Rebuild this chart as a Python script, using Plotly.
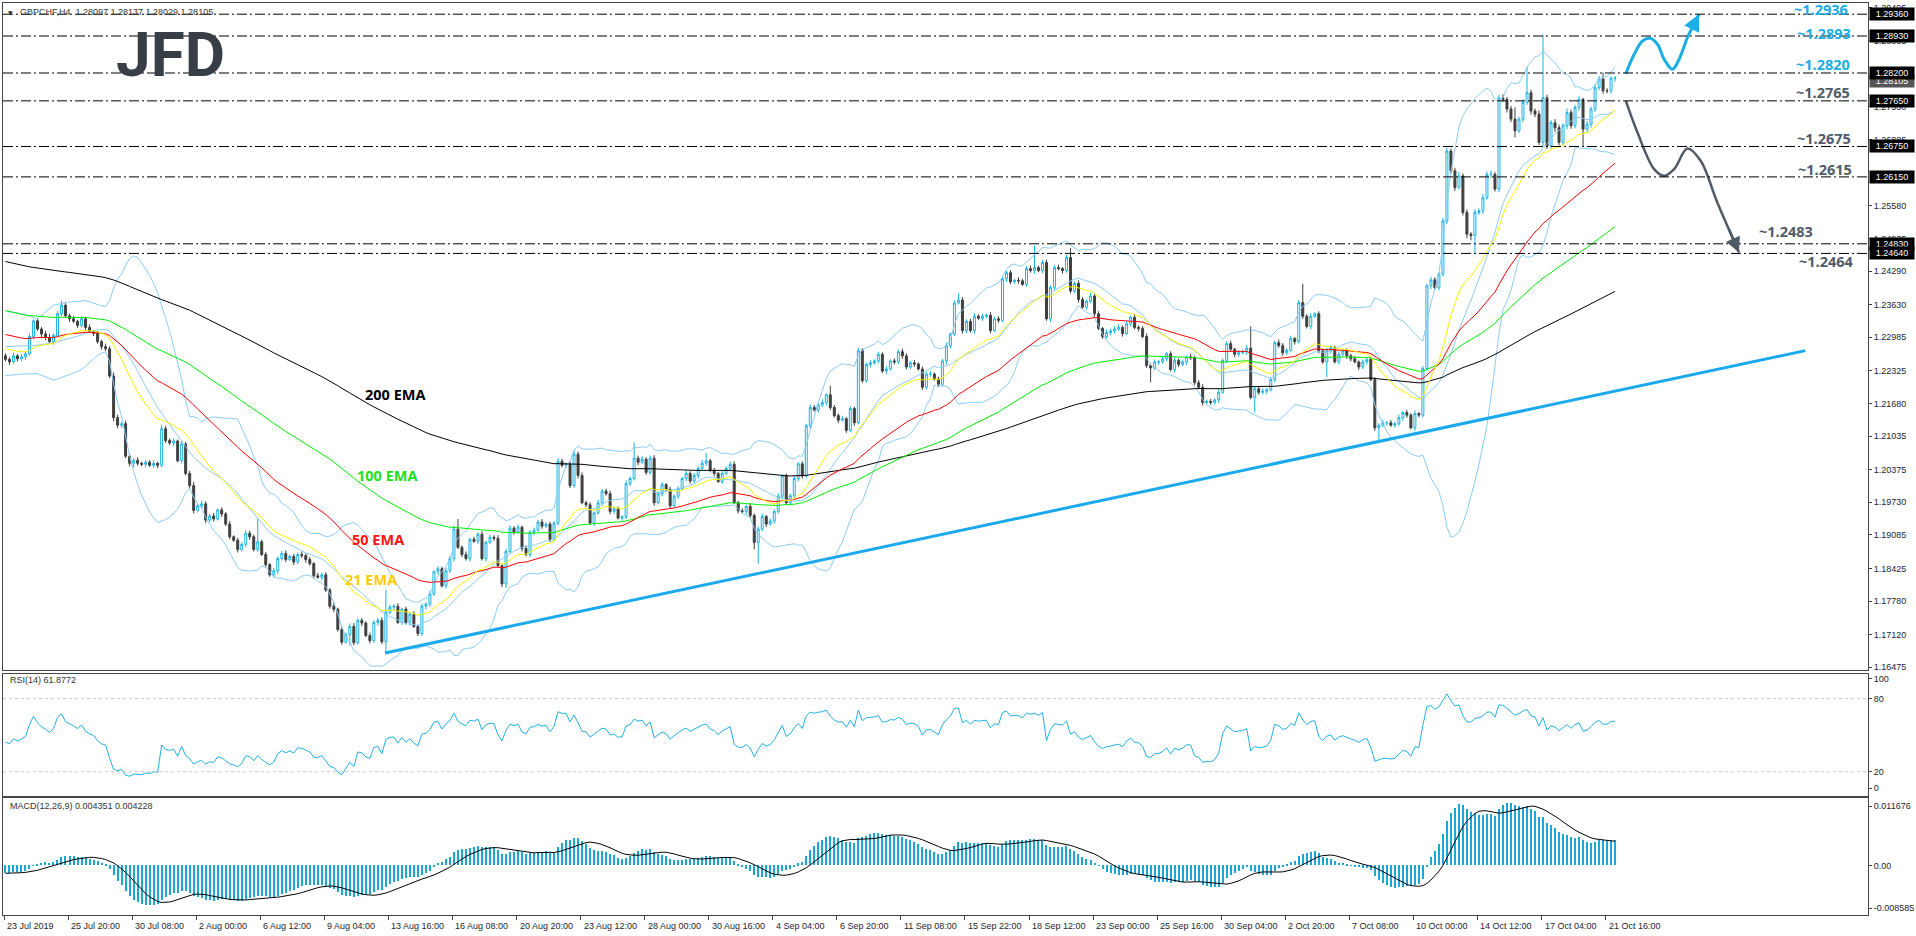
import numpy as np
import pandas as pd
import plotly.graph_objects as go
from plotly.subplots import make_subplots

# ---------------- DATA (prices in 1e-4 units above 1.0000) ----------------
first_open = 2262
closes = [
    2255,2250,2262,2256,2260,2266,2300,2331,2315,2305,2298,2290,2302,2345,2362,2341,2335,2330,2322,2335,
    2318,2310,2306,2290,2280,2276,2222,2140,2125,2128,2064,2050,2056,2050,2048,2052,2046,2050,2046,2118,
    2095,2090,2094,2055,2088,2030,2006,1957,1966,1970,1938,1946,1940,1958,1950,1930,1905,1898,1880,1890,
    1912,1905,1880,1895,1870,1850,1830,1838,1862,1872,1860,1866,1855,1870,1868,1860,1852,1828,1825,1830,
    1800,1768,1762,1722,1697,1712,1728,1696,1740,1735,1710,1700,1736,1740,1698,1756,1766,1768,1736,1762,
    1736,1752,1728,1714,1768,1772,1792,1836,1842,1808,1838,1862,1920,1884,1870,1862,1900,1896,1910,1862,
    1894,1904,1902,1848,1812,1876,1922,1914,1924,1882,1870,1914,1918,1934,1926,1930,1900,1932,2054,2046,
    2048,2006,2068,2026,1972,1968,1932,1952,1972,1995,1990,1955,1960,1942,1944,2010,2020,2060,2052,2058,
    2032,2060,1972,1990,2008,1998,1966,1985,2000,2020,2030,2015,2026,2040,2050,2055,2036,2030,2014,2030,
    2040,2048,1972,1956,1955,1965,1947,1894,1920,1945,1930,1936,1955,1985,2025,1972,1986,2020,2049,2025,
    2124,2160,2155,2165,2170,2185,2160,2144,2135,2138,2115,2158,2130,2272,2213,2245,2248,2252,2265,2232,
    2236,2252,2250,2270,2262,2240,2248,2246,2236,2200,2226,2226,2216,2206,2252,2282,2305,2366,2372,2312,
    2330,2312,2340,2336,2340,2342,2312,2335,2332,2414,2426,2408,2411,2410,2403,2434,2430,2436,2430,2446,
    2335,2397,2436,2434,2430,2456,2390,2405,2373,2358,2370,2380,2345,2316,2300,2308,2311,2315,2318,2306,
    2325,2338,2318,2316,2300,2243,2238,2250,2250,2256,2266,2235,2253,2245,2250,2260,2258,2209,2200,2170,
    2172,2170,2175,2190,2253,2286,2275,2265,2268,2270,2277,2180,2197,2190,2192,2195,2215,2288,2282,2268,
    2273,2296,2290,2367,2340,2320,2340,2345,2272,2250,2272,2278,2250,2265,2272,2262,2256,2250,2240,2250,
    2255,2215,2120,2125,2130,2130,2125,2128,2140,2150,2145,2120,2148,2145,2237,2400,2412,2396,2423,2528,
    2666,2627,2594,2617,2545,2502,2499,2545,2548,2574,2620,2620,2591,2771,2768,2749,2729,2706,2729,2762,
    2781,2745,2739,2683,2771,2676,2722,2712,2683,2716,2742,2716,2752,2768,2709,2719,2749,2791,2808,2785,
    2785,2809.7,2810.5,
]
upper_wicks = [
    5,4,6,3,5,4,6,3,5,4,6,7,4,5,9,5,4,6,3,5,
    4,6,3,5,4,6,5,7,6,4,6,5,4,6,3,5,4,6,3,8,
    6,4,5,3,6,4,5,7,4,6,5,4,6,3,5,4,6,3,5,4,
    6,5,4,45,4,5,3,6,4,5,6,3,5,4,6,4,5,3,6,4,
    5,4,6,3,5,4,6,7,4,5,3,6,4,5,6,44,5,4,6,3,
    5,4,6,3,5,4,6,3,5,4,6,5,7,20,4,6,3,5,4,6,
    3,5,4,6,3,5,6,4,5,3,6,4,5,4,6,3,5,4,6,5,
    4,6,7,5,6,4,5,3,6,4,5,6,4,5,3,6,4,31,5,6,
    4,5,6,4,5,3,6,4,5,3,6,4,5,4,6,15,4,5,3,6,
    4,5,6,4,5,3,6,4,5,6,3,5,4,6,3,5,4,6,3,5,
    4,6,5,4,6,3,18,5,4,6,3,5,4,6,5,4,6,3,5,4,
    6,3,5,4,6,5,4,6,3,5,4,6,3,5,4,6,3,5,13,6,
    4,5,6,4,5,3,6,4,5,6,4,5,3,6,4,5,6,43,4,5,
    6,4,5,6,3,5,19,4,6,5,3,6,4,5,3,6,4,5,6,4,
    5,3,6,4,5,6,4,5,3,6,4,5,6,4,5,3,6,4,5,6,
    4,5,3,6,4,5,6,3,5,4,6,43,5,4,6,3,5,4,6,5,
    4,6,3,5,37,4,6,3,5,4,6,5,4,6,3,5,4,6,3,5,
    4,6,5,4,6,3,5,4,6,3,5,4,6,3,5,4,6,5,4,6,
    7,5,6,8,5,6,4,6,5,7,6,8,5,6,7,5,6,23,5,6,
    50,6,5,7,125,6,5,7,6,5,8,6,5,7,3,6,5,7,6,13,
    5,4,3.2,
]
lower_wicks = [
    4,6,3,5,4,6,3,5,4,6,5,3,6,4,5,4,6,3,5,4,
    6,3,5,4,6,5,4,7,6,5,4,6,8,5,4,6,3,5,6,4,
    5,4,6,3,5,4,7,6,4,5,6,4,5,3,6,4,5,3,6,4,
    5,6,4,5,3,6,4,5,6,4,5,3,6,4,5,6,4,5,3,6,
    4,5,6,4,5,3,22,5,4,6,3,5,4,6,5,21,4,6,3,5,
    4,6,3,5,4,6,5,4,6,3,5,4,6,3,5,4,6,3,5,4,
    6,3,5,4,6,8,4,5,3,6,4,5,6,3,5,4,6,3,5,4,
    6,5,4,6,3,5,4,6,3,5,4,6,5,3,6,4,5,4,6,3,
    5,4,6,3,5,4,6,3,5,4,6,5,4,6,3,5,4,6,3,5,
    4,6,3,5,4,6,5,14,42,4,6,3,5,4,6,3,5,4,6,5,
    4,6,3,5,4,6,5,4,6,3,5,4,6,3,5,4,6,3,5,4,
    6,3,5,4,6,5,4,6,3,5,4,6,3,5,4,6,5,4,3,6,
    5,4,6,3,5,4,6,3,5,4,6,5,4,6,3,5,4,6,3,5,
    4,6,5,3,6,4,5,4,6,3,5,4,6,3,5,4,6,5,4,6,
    3,5,4,6,3,5,28,4,6,3,5,4,6,5,3,6,4,5,4,6,
    3,5,4,6,3,5,4,6,5,3,6,4,30,5,4,6,3,5,4,6,
    5,3,6,4,5,4,6,3,5,4,30,6,3,5,4,6,5,3,6,4,
    5,3,6,25,4,6,3,5,4,6,5,3,6,4,5,4,6,3,5,4,
    6,5,7,4,6,8,9,36,5,6,4,7,5,6,5,7,6,13,5,6,
    5,7,6,5,7,6,5,8,6,5,7,6,5,6,33,5,7,6,5,6,
    5,6,6.8,
]
assert len(closes) == len(upper_wicks) == len(lower_wicks) == 403

date_labels = ["23 Jul 2019", "25 Jul 20:00", "30 Jul 08:00", "2 Aug 00:00", "6 Aug 12:00",
               "9 Aug 04:00", "13 Aug 16:00", "16 Aug 08:00", "20 Aug 20:00", "23 Aug 12:00",
               "28 Aug 00:00", "30 Aug 16:00", "4 Sep 04:00", "6 Sep 20:00", "11 Sep 08:00",
               "15 Sep 22:00", "18 Sep 12:00", "23 Sep 00:00", "25 Sep 16:00", "30 Sep 04:00",
               "2 Oct 20:00", "7 Oct 08:00", "10 Oct 00:00", "14 Oct 12:00", "17 Oct 04:00",
               "21 Oct 16:00"]
date_tick_bars = [16 * j - 0.374 for j in range(len(date_labels))]

# visible price-scale labels (those hidden under the level boxes are left out)
price_ticks = [1.29495, 1.28835, 1.27530, 1.26885, 1.25580, 1.24935, 1.24290,
               1.23630, 1.22985, 1.22325, 1.21680, 1.21035, 1.20375, 1.19730, 1.19085, 1.18425,
               1.17780, 1.17120, 1.16475]

levels = [1.2936, 1.2893, 1.2820, 1.2765, 1.2675, 1.2615, 1.2483, 1.2464]
level_box_text = ["1.29360", "1.28930", "1.28200", "1.27650", "1.26750", "1.26150", "1.24830", "1.24640"]
level_label_text = ["~1.2936", "~1.2893", "~1.2820", "~1.2765", "~1.2675", "~1.2615", "~1.2483", "~1.2464"]
level_label_x = [453.5, 454.1, 454.0, 454.0, 454.2, 454.5, 444.7, 454.8]
level_label_y = [1.29472, 1.28988, 1.28379, 1.27827, 1.26920, 1.26309, 1.25077, 1.24496]
level_label_cyan = [True, True, True, False, False, False, False, False]
bid_price = 1.28105

# indicator seeds read at the left edge of the picture
ema_seeds = {21: 1.2278, 50: 1.2306, 100: 1.2353, 200: 1.2450}
macd_seed_fast, macd_seed_slow = 1.2263, 1.2277
rsi_seed_gain, rsi_seed_loss = 0.0006, 0.0007
bb_start_x = [0, 4, 8, 12, 16]
bb_start_up = [1.2351, 1.2345, 1.2335, 1.2362, 1.2368]
bb_start_mid = [1.2280, 1.2281, 1.2283, 1.2288, 1.2296]
bb_start_lo = [1.2223, 1.2226, 1.2227, 1.2214, 1.2225]

trend_x = [94.8, 449.5]
trend_y = [1.16757, 1.22722]

up_path_x = [404.69, 406.77, 408.85, 410.77, 412.59, 414.25, 416.33, 418.0, 420.07, 422.98]
up_path_y = [1.28187, 1.28570, 1.28832, 1.28885, 1.28767, 1.28471, 1.28274, 1.28471, 1.28897, 1.29358]
dn_path_x = [404.69, 407.60, 411.76, 414.25, 416.75, 420.07, 423.38, 427.54, 432.95]
dn_path_y = [1.27649, 1.27025, 1.26303, 1.26171, 1.26303, 1.26709, 1.26467, 1.25645, 1.24660]

ema_labels = [("200 EMA", 97.5, 1.21869, "#000000"), ("100 EMA", 95.3, 1.20278, "#1ee01e"),
              ("50 EMA", 93.2, 1.18997, "#ff1414"), ("21 EMA", 91.3, 1.18209, "#ffcc00")]

# ---------------- derived series ----------------
c = 1 + np.array(closes, float) / 1e4
o = np.concatenate([[1 + first_open / 1e4], c[:-1]])
h = np.maximum(o, c) + np.array(upper_wicks, float) / 1e4
l = np.minimum(o, c) - np.array(lower_wicks, float) / 1e4
x = np.arange(len(c))
N = len(c)


def ema(vals, n, seed):
    a = 2.0 / (n + 1)
    e = seed
    out = []
    for v in vals:
        e += a * (v - e)
        out.append(e)
    return np.array(out)


emas = {n: ema(c, n, s) for n, s in ema_seeds.items()}

s = pd.Series(c)
mid = s.rolling(20).mean().values
sd = s.rolling(20).std(ddof=0).values
bb_x = bb_start_x + list(range(19, N))
bb_up = bb_start_up + list(mid[19:] + 2 * sd[19:])
bb_mid = bb_start_mid + list(mid[19:])
bb_lo = bb_start_lo + list(mid[19:] - 2 * sd[19:])

ag, al = rsi_seed_gain, rsi_seed_loss
prev = 1 + first_open / 1e4
rsi = []
for v in c:
    d = v - prev
    prev = v
    ag = (ag * 13 + max(d, 0)) / 14
    al = (al * 13 + max(-d, 0)) / 14
    rsi.append(100 - 100 / (1 + ag / al))

macd = ema(c, 12, macd_seed_fast) - ema(c, 26, macd_seed_slow)
signal = pd.Series(macd).rolling(9, min_periods=1).mean().values

# ---------------- figure ----------------
BULL = "#19b3e4"
BEAR = "#3f3f3f"
BORDER = "#454545"
CYAN = "#1aaee3"
GRAY = "#515b67"
BB = "#8ccbf5"
LABEL_FONT = "Noto Sans, Open Sans, Lato"

fig = make_subplots(rows=3, cols=1, shared_xaxes=True, vertical_spacing=0)

fig.add_trace(go.Candlestick(x=x, open=o, high=h, low=l, close=c,
                             increasing=dict(line=dict(color=BULL, width=1), fillcolor="white"),
                             decreasing=dict(line=dict(color=BEAR, width=1), fillcolor=BEAR),
                             whiskerwidth=0, hoverinfo="skip"), row=1, col=1)
for yy in (bb_up, bb_mid, bb_lo):
    fig.add_trace(go.Scatter(x=bb_x, y=yy, mode="lines", line=dict(color=BB, width=1)), row=1, col=1)
for n, col in ((200, "#000000"), (100, "#00ee00"), (50, "#ff0000"), (21, "#f5f500")):
    fig.add_trace(go.Scatter(x=x, y=emas[n], mode="lines", line=dict(color=col, width=1)), row=1, col=1)
fig.add_trace(go.Scatter(x=trend_x, y=trend_y, mode="lines", line=dict(color="#1aa9ec", width=3)), row=1, col=1)
fig.add_trace(go.Scatter(x=up_path_x, y=up_path_y, mode="lines",
                         line=dict(color=CYAN, width=3, shape="spline", smoothing=1.0)), row=1, col=1)
fig.add_trace(go.Scatter(x=dn_path_x, y=dn_path_y, mode="lines",
                         line=dict(color=GRAY, width=2.5, shape="spline", smoothing=1.0)), row=1, col=1)

fig.add_trace(go.Scatter(x=x, y=rsi, mode="lines", line=dict(color="#1fb0e0", width=1)), row=2, col=1)

fig.add_trace(go.Bar(x=x, y=macd, width=0.28, marker=dict(color="#1ca6d6", line=dict(width=0))), row=3, col=1)
fig.add_trace(go.Scatter(x=x, y=signal, mode="lines", line=dict(color="#000000", width=1)), row=3, col=1)

xr = [-0.623, 465.17]
fig.update_xaxes(range=xr, showgrid=False, zeroline=False, showline=True, mirror=True,
                 linecolor=BORDER, linewidth=1, rangeslider_visible=False, ticks="",
                 showticklabels=False, fixedrange=True)
fig.update_xaxes(row=3, col=1, ticks="outside", tickvals=date_tick_bars, ticklen=4,
                 tickcolor=BORDER, showticklabels=False)

axis_font = dict(family="Liberation Sans, Arial", size=9, color="#1e2530")
common_y = dict(showgrid=False, zeroline=False, showline=True, mirror=True, linecolor=BORDER,
                linewidth=1, side="right", ticks="outside", ticklen=3, tickcolor=BORDER,
                tickfont=axis_font, fixedrange=True)
fig.update_layout(
    yaxis=dict(domain=[0.26835, 1.0], range=[1.16416, 1.29581], tickvals=price_ticks,
               ticktext=[f"{v:.5f}" for v in price_ticks], **common_y),
    yaxis2=dict(domain=[0.13034, 0.26396], range=[0, 100], tickvals=[96.5, 80, 20, 6.5],
                ticktext=["100", "80", "20", "0"], **common_y),
    yaxis3=dict(domain=[0, 0.12815], range=[-0.008585, 0.011676],
                tickvals=[0.010291, 0.0, -0.007373], ticktext=["0.011676", "0.00", "-0.008585"],
                **common_y),
)

shapes = []
for lv in levels:
    shapes.append(dict(type="line", xref="paper", x0=0, x1=1, yref="y", y0=lv, y1=lv,
                       line=dict(color="#000000", width=1, dash="10px,3px,2px,3px"), layer="above"))
for lv in (80, 20):
    shapes.append(dict(type="line", xref="paper", x0=0, x1=1, yref="y2", y0=lv, y1=lv,
                       line=dict(color="#c4c4c4", width=1, dash="3px,3px")))

ann = []
for lab, tb in zip(date_labels, date_tick_bars):
    ann.append(dict(x=tb, xref="x3", y=-0.004, yref="paper", text=lab, showarrow=False,
                    xanchor="left", yanchor="top", xshift=1, font=axis_font))
ann.append(dict(x=1, xref="paper", y=bid_price, yref="y", text="1.28105", showarrow=False,
                xanchor="left", xshift=1, yshift=-3, bgcolor="#555555",
                font=dict(family="Liberation Sans, Arial", size=9, color="white"), width=42, height=10))
for lv, t in zip(levels, level_box_text):
    ann.append(dict(x=1, xref="paper", y=lv, yref="y", text=t, showarrow=False,
                    xanchor="left", xshift=1, bgcolor="#000000",
                    font=dict(family="Liberation Sans, Arial", size=9, color="white"), width=42, height=10))
for t, lx, ly, cy in zip(level_label_text, level_label_x, level_label_y, level_label_cyan):
    ann.append(dict(x=lx, y=ly, xref="x", yref="y", text=f"<b>{t}</b>", showarrow=False,
                    font=dict(family=LABEL_FONT, size=14.5, color=CYAN if cy else GRAY)))
for t, lx, ly, col in ema_labels:
    ann.append(dict(x=lx, y=ly, xref="x", yref="y", text=f"<b>{t}</b>", showarrow=False,
                    font=dict(family=LABEL_FONT, size=14.5, color=col)))
ann.append(dict(x=up_path_x[-1], y=up_path_y[-1], xref="x", yref="y",
                ax=(up_path_x[-1] + up_path_x[-2]) / 2, ay=(up_path_y[-1] + up_path_y[-2]) / 2,
                axref="x", ayref="y", text="", showarrow=True, arrowhead=2, arrowsize=1.1,
                arrowwidth=3, arrowcolor=CYAN))
ann.append(dict(x=dn_path_x[-1], y=dn_path_y[-1], xref="x", yref="y",
                ax=(dn_path_x[-1] + dn_path_x[-2]) / 2, ay=(dn_path_y[-1] + dn_path_y[-2]) / 2,
                axref="x", ayref="y", text="", showarrow=True, arrowhead=2, arrowsize=1.2,
                arrowwidth=2.5, arrowcolor=GRAY))
ann.append(dict(x=41.2, y=1.28566, xref="x", yref="y", text="<b>JFD</b>", showarrow=False,
                font=dict(family="Roboto, Noto Sans", size=62, color="#383e46")))
ann.append(dict(x=0.0016, y=0.9901, xref="paper", yref="paper", text="\u25bc", showarrow=False,
                xanchor="left", yanchor="middle", font=dict(family="DejaVu Sans", size=6, color="#333333")))
ann.append(dict(x=0.008, y=0.9901, xref="paper", yref="paper",
                text="GBPCHF,H4\u00a0\u00a01.28097 1.28137 1.28029 1.28105", showarrow=False,
                xanchor="left", yanchor="middle", font=dict(family="Liberation Sans, Arial", size=9, color="#333333")))
ann.append(dict(x=0.0027, y=0.2574, xref="paper", yref="paper", text="RSI(14) 61.8772", showarrow=False,
                xanchor="left", yanchor="middle", font=dict(family="Liberation Sans, Arial", size=9, color="#333333")))
ann.append(dict(x=0.0027, y=0.1194, xref="paper", yref="paper", text="MACD(12,26,9) 0.004351 0.004228",
                showarrow=False, xanchor="left", yanchor="middle",
                font=dict(family="Liberation Sans, Arial", size=9, color="#333333")))

fig.update_layout(width=1916, height=936, margin=dict(l=2, r=45, t=2, b=21),
                  paper_bgcolor="white", plot_bgcolor="white", showlegend=False,
                  hovermode=False, bargap=0, shapes=shapes, annotations=ann,
                  font=dict(family="Liberation Sans, Arial", size=9, color="#222222"))

fig.write_html("out.html")
